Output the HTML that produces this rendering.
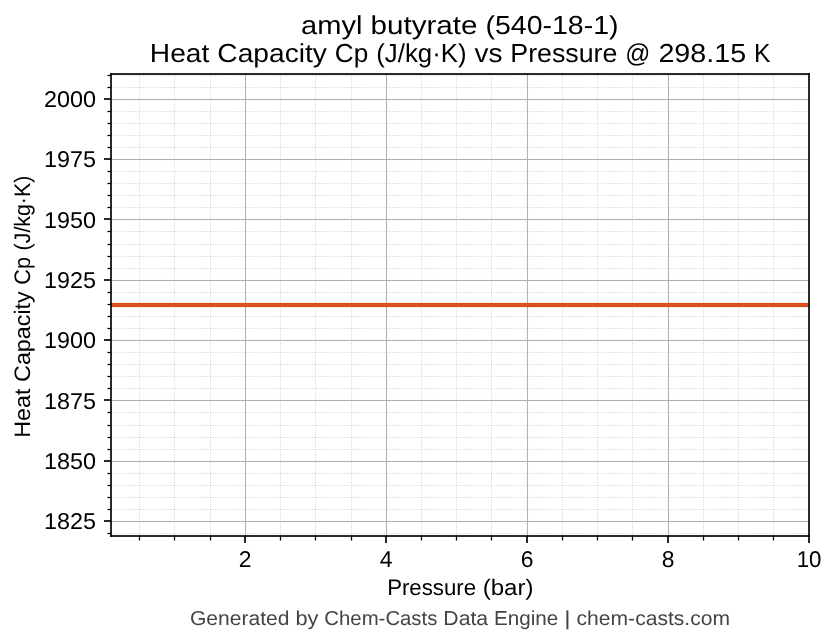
<!DOCTYPE html>
<html lang="en">
<head>
<meta charset="utf-8">
<title>amyl butyrate (540-18-1) - Heat Capacity Cp vs Pressure</title>
<style>
html,body{margin:0;padding:0;background:#ffffff;}
body{width:836px;height:644px;overflow:hidden;}
svg{display:block;will-change:transform;}
text{font-family:"Liberation Sans",sans-serif;fill:#000000;text-rendering:geometricPrecision;}
.ft{fill:#444444;}
</style>
</head>
<body>
<svg width="836" height="644" viewBox="0 0 836 644">
<rect x="0" y="0" width="836" height="644" fill="#ffffff"/>
<defs><clipPath id="ax"><rect x="111.0417" y="74.3000" width="697.5000" height="462.0000"/></clipPath></defs>
<g clip-path="url(#ax)" stroke="#b0b0b0" stroke-opacity="0.640" stroke-width="0.9375" fill="none">
<g stroke-dasharray="0.9386 1.5486">
<line x1="110.5128" y1="75.5" x2="810" y2="75.5"/>
<line x1="110.5128" y1="87.5" x2="810" y2="87.5"/>
<line x1="110.5128" y1="111.5" x2="810" y2="111.5"/>
<line x1="110.5128" y1="123.5" x2="810" y2="123.5"/>
<line x1="110.5128" y1="135.5" x2="810" y2="135.5"/>
<line x1="110.5128" y1="147.5" x2="810" y2="147.5"/>
<line x1="110.5128" y1="171.5" x2="810" y2="171.5"/>
<line x1="110.5128" y1="183.5" x2="810" y2="183.5"/>
<line x1="110.5128" y1="195.5" x2="810" y2="195.5"/>
<line x1="110.5128" y1="207.5" x2="810" y2="207.5"/>
<line x1="110.5128" y1="231.5" x2="810" y2="231.5"/>
<line x1="110.5128" y1="244.5" x2="810" y2="244.5"/>
<line x1="110.5128" y1="256.5" x2="810" y2="256.5"/>
<line x1="110.5128" y1="268.5" x2="810" y2="268.5"/>
<line x1="110.5128" y1="292.5" x2="810" y2="292.5"/>
<line x1="110.5128" y1="304.5" x2="810" y2="304.5"/>
<line x1="110.5128" y1="316.5" x2="810" y2="316.5"/>
<line x1="110.5128" y1="328.5" x2="810" y2="328.5"/>
<line x1="110.5128" y1="352.5" x2="810" y2="352.5"/>
<line x1="110.5128" y1="364.5" x2="810" y2="364.5"/>
<line x1="110.5128" y1="376.5" x2="810" y2="376.5"/>
<line x1="110.5128" y1="388.5" x2="810" y2="388.5"/>
<line x1="110.5128" y1="412.5" x2="810" y2="412.5"/>
<line x1="110.5128" y1="425.5" x2="810" y2="425.5"/>
<line x1="110.5128" y1="437.5" x2="810" y2="437.5"/>
<line x1="110.5128" y1="449.5" x2="810" y2="449.5"/>
<line x1="110.5128" y1="473.5" x2="810" y2="473.5"/>
<line x1="110.5128" y1="485.5" x2="810" y2="485.5"/>
<line x1="110.5128" y1="497.5" x2="810" y2="497.5"/>
<line x1="110.5128" y1="509.5" x2="810" y2="509.5"/>
<line x1="110.5128" y1="533.5" x2="810" y2="533.5"/>
</g>
<g stroke-dasharray="0.9375 1.5457">
<line x1="139.5" y1="537.4207" x2="139.5" y2="73"/>
<line x1="174.5" y1="537.4207" x2="174.5" y2="73"/>
<line x1="210.5" y1="537.4207" x2="210.5" y2="73"/>
<line x1="280.5" y1="537.4207" x2="280.5" y2="73"/>
<line x1="315.5" y1="537.4207" x2="315.5" y2="73"/>
<line x1="351.5" y1="537.4207" x2="351.5" y2="73"/>
<line x1="421.5" y1="537.4207" x2="421.5" y2="73"/>
<line x1="456.5" y1="537.4207" x2="456.5" y2="73"/>
<line x1="491.5" y1="537.4207" x2="491.5" y2="73"/>
<line x1="562.5" y1="537.4207" x2="562.5" y2="73"/>
<line x1="597.5" y1="537.4207" x2="597.5" y2="73"/>
<line x1="632.5" y1="537.4207" x2="632.5" y2="73"/>
<line x1="703.5" y1="537.4207" x2="703.5" y2="73"/>
<line x1="738.5" y1="537.4207" x2="738.5" y2="73"/>
<line x1="773.5" y1="537.4207" x2="773.5" y2="73"/>
</g>
</g>
<g clip-path="url(#ax)" fill="#b0b0b0">
<rect x="110.0000" y="98" width="700.0000" height="1" fill-opacity="0.0208"/><rect x="110.0000" y="99" width="700.0000" height="1"/><rect x="110.0000" y="100" width="700.0000" height="1" fill-opacity="0.0208"/>
<rect x="110.0000" y="158" width="700.0000" height="1" fill-opacity="0.0208"/><rect x="110.0000" y="159" width="700.0000" height="1"/><rect x="110.0000" y="160" width="700.0000" height="1" fill-opacity="0.0208"/>
<rect x="110.0000" y="218" width="700.0000" height="1" fill-opacity="0.0208"/><rect x="110.0000" y="219" width="700.0000" height="1"/><rect x="110.0000" y="220" width="700.0000" height="1" fill-opacity="0.0208"/>
<rect x="110.0000" y="279" width="700.0000" height="1" fill-opacity="0.0208"/><rect x="110.0000" y="280" width="700.0000" height="1"/><rect x="110.0000" y="281" width="700.0000" height="1" fill-opacity="0.0208"/>
<rect x="110.0000" y="339" width="700.0000" height="1" fill-opacity="0.0208"/><rect x="110.0000" y="340" width="700.0000" height="1"/><rect x="110.0000" y="341" width="700.0000" height="1" fill-opacity="0.0208"/>
<rect x="110.0000" y="399" width="700.0000" height="1" fill-opacity="0.0208"/><rect x="110.0000" y="400" width="700.0000" height="1"/><rect x="110.0000" y="401" width="700.0000" height="1" fill-opacity="0.0208"/>
<rect x="110.0000" y="460" width="700.0000" height="1" fill-opacity="0.0208"/><rect x="110.0000" y="461" width="700.0000" height="1"/><rect x="110.0000" y="462" width="700.0000" height="1" fill-opacity="0.0208"/>
<rect x="110.0000" y="520" width="700.0000" height="1" fill-opacity="0.0208"/><rect x="110.0000" y="521" width="700.0000" height="1"/><rect x="110.0000" y="522" width="700.0000" height="1" fill-opacity="0.0208"/>
<rect x="244" y="73.0000" width="1" height="465.0000" fill-opacity="0.0208"/><rect x="245" y="73.0000" width="1" height="465.0000"/><rect x="246" y="73.0000" width="1" height="465.0000" fill-opacity="0.0208"/>
<rect x="385" y="73.0000" width="1" height="465.0000" fill-opacity="0.0208"/><rect x="386" y="73.0000" width="1" height="465.0000"/><rect x="387" y="73.0000" width="1" height="465.0000" fill-opacity="0.0208"/>
<rect x="526" y="73.0000" width="1" height="465.0000" fill-opacity="0.0208"/><rect x="527" y="73.0000" width="1" height="465.0000"/><rect x="528" y="73.0000" width="1" height="465.0000" fill-opacity="0.0208"/>
<rect x="667" y="73.0000" width="1" height="465.0000" fill-opacity="0.0208"/><rect x="668" y="73.0000" width="1" height="465.0000"/><rect x="669" y="73.0000" width="1" height="465.0000" fill-opacity="0.0208"/>
</g>
<g clip-path="url(#ax)">
<g fill="#d8480f"><rect x="110.0000" y="302" width="700.0000" height="1" fill-opacity="0.0833"/><rect x="110.0000" y="303" width="700.0000" height="4"/><rect x="110.0000" y="307" width="700.0000" height="1" fill-opacity="0.0833"/></g>
<rect x="110" y="304" width="700" height="2" fill="#d9541e"/>
</g>
<g fill="#000000">
<rect x="104.0000" y="98" width="7.0000" height="2" fill-opacity="0.8350"/>
<rect x="104.0000" y="158" width="7.0000" height="2" fill-opacity="0.8350"/>
<rect x="104.0000" y="218" width="7.0000" height="2" fill-opacity="0.8350"/>
<rect x="104.0000" y="279" width="7.0000" height="2" fill-opacity="0.8350"/>
<rect x="104.0000" y="339" width="7.0000" height="2" fill-opacity="0.8350"/>
<rect x="104.0000" y="399" width="7.0000" height="2" fill-opacity="0.8350"/>
<rect x="104.0000" y="460" width="7.0000" height="2" fill-opacity="0.8350"/>
<rect x="104.0000" y="520" width="7.0000" height="2" fill-opacity="0.8350"/>
<rect x="244" y="536.0000" width="2" height="7.0000" fill-opacity="0.8350"/>
<rect x="385" y="536.0000" width="2" height="7.0000" fill-opacity="0.8350"/>
<rect x="526" y="536.0000" width="2" height="7.0000" fill-opacity="0.8350"/>
<rect x="667" y="536.0000" width="2" height="7.0000" fill-opacity="0.8350"/>
<rect x="808" y="536.0000" width="2" height="7.0000" fill-opacity="0.8350"/>
<rect x="107.5000" y="74" width="4.0000" height="1" fill-opacity="0.1250"/><rect x="107.5000" y="75" width="4.0000" height="1"/><rect x="107.5000" y="76" width="4.0000" height="1" fill-opacity="0.1250"/>
<rect x="107.5000" y="86" width="4.0000" height="1" fill-opacity="0.1250"/><rect x="107.5000" y="87" width="4.0000" height="1"/><rect x="107.5000" y="88" width="4.0000" height="1" fill-opacity="0.1250"/>
<rect x="107.5000" y="110" width="4.0000" height="1" fill-opacity="0.1250"/><rect x="107.5000" y="111" width="4.0000" height="1"/><rect x="107.5000" y="112" width="4.0000" height="1" fill-opacity="0.1250"/>
<rect x="107.5000" y="122" width="4.0000" height="1" fill-opacity="0.1250"/><rect x="107.5000" y="123" width="4.0000" height="1"/><rect x="107.5000" y="124" width="4.0000" height="1" fill-opacity="0.1250"/>
<rect x="107.5000" y="134" width="4.0000" height="1" fill-opacity="0.1250"/><rect x="107.5000" y="135" width="4.0000" height="1"/><rect x="107.5000" y="136" width="4.0000" height="1" fill-opacity="0.1250"/>
<rect x="107.5000" y="146" width="4.0000" height="1" fill-opacity="0.1250"/><rect x="107.5000" y="147" width="4.0000" height="1"/><rect x="107.5000" y="148" width="4.0000" height="1" fill-opacity="0.1250"/>
<rect x="107.5000" y="170" width="4.0000" height="1" fill-opacity="0.1250"/><rect x="107.5000" y="171" width="4.0000" height="1"/><rect x="107.5000" y="172" width="4.0000" height="1" fill-opacity="0.1250"/>
<rect x="107.5000" y="182" width="4.0000" height="1" fill-opacity="0.1250"/><rect x="107.5000" y="183" width="4.0000" height="1"/><rect x="107.5000" y="184" width="4.0000" height="1" fill-opacity="0.1250"/>
<rect x="107.5000" y="194" width="4.0000" height="1" fill-opacity="0.1250"/><rect x="107.5000" y="195" width="4.0000" height="1"/><rect x="107.5000" y="196" width="4.0000" height="1" fill-opacity="0.1250"/>
<rect x="107.5000" y="206" width="4.0000" height="1" fill-opacity="0.1250"/><rect x="107.5000" y="207" width="4.0000" height="1"/><rect x="107.5000" y="208" width="4.0000" height="1" fill-opacity="0.1250"/>
<rect x="107.5000" y="230" width="4.0000" height="1" fill-opacity="0.1250"/><rect x="107.5000" y="231" width="4.0000" height="1"/><rect x="107.5000" y="232" width="4.0000" height="1" fill-opacity="0.1250"/>
<rect x="107.5000" y="243" width="4.0000" height="1" fill-opacity="0.1250"/><rect x="107.5000" y="244" width="4.0000" height="1"/><rect x="107.5000" y="245" width="4.0000" height="1" fill-opacity="0.1250"/>
<rect x="107.5000" y="255" width="4.0000" height="1" fill-opacity="0.1250"/><rect x="107.5000" y="256" width="4.0000" height="1"/><rect x="107.5000" y="257" width="4.0000" height="1" fill-opacity="0.1250"/>
<rect x="107.5000" y="267" width="4.0000" height="1" fill-opacity="0.1250"/><rect x="107.5000" y="268" width="4.0000" height="1"/><rect x="107.5000" y="269" width="4.0000" height="1" fill-opacity="0.1250"/>
<rect x="107.5000" y="291" width="4.0000" height="1" fill-opacity="0.1250"/><rect x="107.5000" y="292" width="4.0000" height="1"/><rect x="107.5000" y="293" width="4.0000" height="1" fill-opacity="0.1250"/>
<rect x="107.5000" y="303" width="4.0000" height="1" fill-opacity="0.1250"/><rect x="107.5000" y="304" width="4.0000" height="1"/><rect x="107.5000" y="305" width="4.0000" height="1" fill-opacity="0.1250"/>
<rect x="107.5000" y="315" width="4.0000" height="1" fill-opacity="0.1250"/><rect x="107.5000" y="316" width="4.0000" height="1"/><rect x="107.5000" y="317" width="4.0000" height="1" fill-opacity="0.1250"/>
<rect x="107.5000" y="327" width="4.0000" height="1" fill-opacity="0.1250"/><rect x="107.5000" y="328" width="4.0000" height="1"/><rect x="107.5000" y="329" width="4.0000" height="1" fill-opacity="0.1250"/>
<rect x="107.5000" y="351" width="4.0000" height="1" fill-opacity="0.1250"/><rect x="107.5000" y="352" width="4.0000" height="1"/><rect x="107.5000" y="353" width="4.0000" height="1" fill-opacity="0.1250"/>
<rect x="107.5000" y="363" width="4.0000" height="1" fill-opacity="0.1250"/><rect x="107.5000" y="364" width="4.0000" height="1"/><rect x="107.5000" y="365" width="4.0000" height="1" fill-opacity="0.1250"/>
<rect x="107.5000" y="375" width="4.0000" height="1" fill-opacity="0.1250"/><rect x="107.5000" y="376" width="4.0000" height="1"/><rect x="107.5000" y="377" width="4.0000" height="1" fill-opacity="0.1250"/>
<rect x="107.5000" y="387" width="4.0000" height="1" fill-opacity="0.1250"/><rect x="107.5000" y="388" width="4.0000" height="1"/><rect x="107.5000" y="389" width="4.0000" height="1" fill-opacity="0.1250"/>
<rect x="107.5000" y="411" width="4.0000" height="1" fill-opacity="0.1250"/><rect x="107.5000" y="412" width="4.0000" height="1"/><rect x="107.5000" y="413" width="4.0000" height="1" fill-opacity="0.1250"/>
<rect x="107.5000" y="424" width="4.0000" height="1" fill-opacity="0.1250"/><rect x="107.5000" y="425" width="4.0000" height="1"/><rect x="107.5000" y="426" width="4.0000" height="1" fill-opacity="0.1250"/>
<rect x="107.5000" y="436" width="4.0000" height="1" fill-opacity="0.1250"/><rect x="107.5000" y="437" width="4.0000" height="1"/><rect x="107.5000" y="438" width="4.0000" height="1" fill-opacity="0.1250"/>
<rect x="107.5000" y="448" width="4.0000" height="1" fill-opacity="0.1250"/><rect x="107.5000" y="449" width="4.0000" height="1"/><rect x="107.5000" y="450" width="4.0000" height="1" fill-opacity="0.1250"/>
<rect x="107.5000" y="472" width="4.0000" height="1" fill-opacity="0.1250"/><rect x="107.5000" y="473" width="4.0000" height="1"/><rect x="107.5000" y="474" width="4.0000" height="1" fill-opacity="0.1250"/>
<rect x="107.5000" y="484" width="4.0000" height="1" fill-opacity="0.1250"/><rect x="107.5000" y="485" width="4.0000" height="1"/><rect x="107.5000" y="486" width="4.0000" height="1" fill-opacity="0.1250"/>
<rect x="107.5000" y="496" width="4.0000" height="1" fill-opacity="0.1250"/><rect x="107.5000" y="497" width="4.0000" height="1"/><rect x="107.5000" y="498" width="4.0000" height="1" fill-opacity="0.1250"/>
<rect x="107.5000" y="508" width="4.0000" height="1" fill-opacity="0.1250"/><rect x="107.5000" y="509" width="4.0000" height="1"/><rect x="107.5000" y="510" width="4.0000" height="1" fill-opacity="0.1250"/>
<rect x="107.5000" y="532" width="4.0000" height="1" fill-opacity="0.1250"/><rect x="107.5000" y="533" width="4.0000" height="1"/><rect x="107.5000" y="534" width="4.0000" height="1" fill-opacity="0.1250"/>
<rect x="138" y="536.5000" width="1" height="4.0000" fill-opacity="0.1250"/><rect x="139" y="536.5000" width="1" height="4.0000"/><rect x="140" y="536.5000" width="1" height="4.0000" fill-opacity="0.1250"/>
<rect x="173" y="536.5000" width="1" height="4.0000" fill-opacity="0.1250"/><rect x="174" y="536.5000" width="1" height="4.0000"/><rect x="175" y="536.5000" width="1" height="4.0000" fill-opacity="0.1250"/>
<rect x="209" y="536.5000" width="1" height="4.0000" fill-opacity="0.1250"/><rect x="210" y="536.5000" width="1" height="4.0000"/><rect x="211" y="536.5000" width="1" height="4.0000" fill-opacity="0.1250"/>
<rect x="279" y="536.5000" width="1" height="4.0000" fill-opacity="0.1250"/><rect x="280" y="536.5000" width="1" height="4.0000"/><rect x="281" y="536.5000" width="1" height="4.0000" fill-opacity="0.1250"/>
<rect x="314" y="536.5000" width="1" height="4.0000" fill-opacity="0.1250"/><rect x="315" y="536.5000" width="1" height="4.0000"/><rect x="316" y="536.5000" width="1" height="4.0000" fill-opacity="0.1250"/>
<rect x="350" y="536.5000" width="1" height="4.0000" fill-opacity="0.1250"/><rect x="351" y="536.5000" width="1" height="4.0000"/><rect x="352" y="536.5000" width="1" height="4.0000" fill-opacity="0.1250"/>
<rect x="420" y="536.5000" width="1" height="4.0000" fill-opacity="0.1250"/><rect x="421" y="536.5000" width="1" height="4.0000"/><rect x="422" y="536.5000" width="1" height="4.0000" fill-opacity="0.1250"/>
<rect x="455" y="536.5000" width="1" height="4.0000" fill-opacity="0.1250"/><rect x="456" y="536.5000" width="1" height="4.0000"/><rect x="457" y="536.5000" width="1" height="4.0000" fill-opacity="0.1250"/>
<rect x="490" y="536.5000" width="1" height="4.0000" fill-opacity="0.1250"/><rect x="491" y="536.5000" width="1" height="4.0000"/><rect x="492" y="536.5000" width="1" height="4.0000" fill-opacity="0.1250"/>
<rect x="561" y="536.5000" width="1" height="4.0000" fill-opacity="0.1250"/><rect x="562" y="536.5000" width="1" height="4.0000"/><rect x="563" y="536.5000" width="1" height="4.0000" fill-opacity="0.1250"/>
<rect x="596" y="536.5000" width="1" height="4.0000" fill-opacity="0.1250"/><rect x="597" y="536.5000" width="1" height="4.0000"/><rect x="598" y="536.5000" width="1" height="4.0000" fill-opacity="0.1250"/>
<rect x="631" y="536.5000" width="1" height="4.0000" fill-opacity="0.1250"/><rect x="632" y="536.5000" width="1" height="4.0000"/><rect x="633" y="536.5000" width="1" height="4.0000" fill-opacity="0.1250"/>
<rect x="702" y="536.5000" width="1" height="4.0000" fill-opacity="0.1250"/><rect x="703" y="536.5000" width="1" height="4.0000"/><rect x="704" y="536.5000" width="1" height="4.0000" fill-opacity="0.1250"/>
<rect x="737" y="536.5000" width="1" height="4.0000" fill-opacity="0.1250"/><rect x="738" y="536.5000" width="1" height="4.0000"/><rect x="739" y="536.5000" width="1" height="4.0000" fill-opacity="0.1250"/>
<rect x="772" y="536.5000" width="1" height="4.0000" fill-opacity="0.1250"/><rect x="773" y="536.5000" width="1" height="4.0000"/><rect x="774" y="536.5000" width="1" height="4.0000" fill-opacity="0.1250"/>
</g>
<g fill="#000000">
<rect x="110" y="73.1650" width="2" height="463.6700" fill-opacity="0.8350"/>
<rect x="808" y="73.1650" width="2" height="463.6700" fill-opacity="0.8350"/>
<rect x="110.1650" y="535" width="699.6700" height="2" fill-opacity="0.8350"/>
<rect x="110.1650" y="73" width="699.6700" height="2" fill-opacity="0.8350"/>
</g>
<text x="245.00" y="566.50" font-size="22.90" text-anchor="middle">2</text>
<text x="386.00" y="566.50" font-size="22.90" text-anchor="middle">4</text>
<text x="527.00" y="566.50" font-size="22.90" text-anchor="middle">6</text>
<text x="668.00" y="566.50" font-size="22.90" text-anchor="middle">8</text>
<text x="809.00" y="566.50" font-size="22.90" text-anchor="middle" textLength="24.71" lengthAdjust="spacingAndGlyphs">10</text>
<text x="96.00" y="107.00" font-size="22.90" text-anchor="end" textLength="51.98" lengthAdjust="spacingAndGlyphs">2000</text>
<text x="96.00" y="167.00" font-size="22.90" text-anchor="end" textLength="51.98" lengthAdjust="spacingAndGlyphs">1975</text>
<text x="96.00" y="228.00" font-size="22.90" text-anchor="end" textLength="51.98" lengthAdjust="spacingAndGlyphs">1950</text>
<text x="96.00" y="288.00" font-size="22.90" text-anchor="end" textLength="51.98" lengthAdjust="spacingAndGlyphs">1925</text>
<text x="96.00" y="348.00" font-size="22.90" text-anchor="end" textLength="51.98" lengthAdjust="spacingAndGlyphs">1900</text>
<text x="96.00" y="409.00" font-size="22.90" text-anchor="end" textLength="51.98" lengthAdjust="spacingAndGlyphs">1875</text>
<text x="96.00" y="469.00" font-size="22.90" text-anchor="end" textLength="51.98" lengthAdjust="spacingAndGlyphs">1850</text>
<text x="96.00" y="529.00" font-size="22.90" text-anchor="end" textLength="51.98" lengthAdjust="spacingAndGlyphs">1825</text>
<text y="34.00" font-size="26.00"><tspan x="301.10" textLength="61.41" lengthAdjust="spacingAndGlyphs">amyl</tspan> <tspan x="370.46" textLength="107.09" lengthAdjust="spacingAndGlyphs">butyrate</tspan> <tspan x="485.50" textLength="132.98" lengthAdjust="spacingAndGlyphs">(540-18-1)</tspan></text>
<text y="62.00" font-size="26.00"><tspan x="149.85" textLength="59.48" lengthAdjust="spacingAndGlyphs">Heat</tspan> <tspan x="217.30" textLength="109.58" lengthAdjust="spacingAndGlyphs">Capacity</tspan> <tspan x="334.85" textLength="33.43" lengthAdjust="spacingAndGlyphs">Cp</tspan> <tspan x="376.25" textLength="90.26" lengthAdjust="spacingAndGlyphs">(J/kg·K)</tspan> <tspan x="474.48" textLength="27.90" lengthAdjust="spacingAndGlyphs">vs</tspan> <tspan x="510.35" textLength="107.05" lengthAdjust="spacingAndGlyphs">Pressure</tspan> <tspan x="625.37" textLength="25.07" lengthAdjust="spacingAndGlyphs">@</tspan> <tspan x="658.41" textLength="87.74" lengthAdjust="spacingAndGlyphs">298.15</tspan> <tspan x="754.12" textLength="16.44" lengthAdjust="spacingAndGlyphs">K</tspan></text>
<text y="595.00" font-size="22.40"><tspan x="387.14" textLength="88.94" lengthAdjust="spacingAndGlyphs">Pressure</tspan> <tspan x="482.70" textLength="50.81" lengthAdjust="spacingAndGlyphs">(bar)</tspan></text>
<text transform="translate(30.00 436.74) rotate(-90)" y="0" font-size="22.40"><tspan x="-1.00" textLength="49.22" lengthAdjust="spacingAndGlyphs">Heat</tspan> <tspan x="54.82" textLength="90.68" lengthAdjust="spacingAndGlyphs">Capacity</tspan> <tspan x="152.09" textLength="27.66" lengthAdjust="spacingAndGlyphs">Cp</tspan> <tspan x="186.35" textLength="74.69" lengthAdjust="spacingAndGlyphs">(J/kg·K)</tspan></text>
<text y="625.00" font-size="20.20" class="ft"><tspan x="189.98" textLength="99.47" lengthAdjust="spacingAndGlyphs">Generated</tspan> <tspan x="295.41" textLength="23.00" lengthAdjust="spacingAndGlyphs">by</tspan> <tspan x="324.37" textLength="113.01" lengthAdjust="spacingAndGlyphs">Chem-Casts</tspan> <tspan x="443.34" textLength="44.77" lengthAdjust="spacingAndGlyphs">Data</tspan> <tspan x="494.07" textLength="64.26" lengthAdjust="spacingAndGlyphs">Engine</tspan> <tspan x="564.29" textLength="6.32" lengthAdjust="spacingAndGlyphs">|</tspan> <tspan x="576.57" textLength="153.45" lengthAdjust="spacingAndGlyphs">chem-casts.com</tspan></text>
</svg>
</body>
</html>
